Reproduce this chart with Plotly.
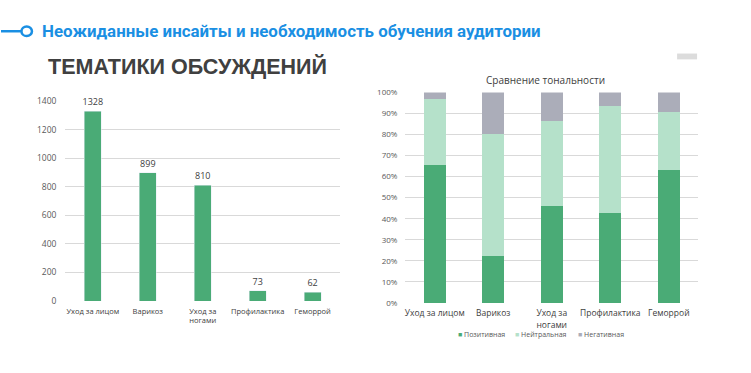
import plotly.graph_objects as go

W, H = 751, 373

categories = ["Уход за лицом", "Варикоз", "Уход за<br>ногами", "Профилактика", "Геморрой"]
counts = [1328, 899, 810, 73, 62]

positive = [65.5, 22.5, 46, 42.5, 63]
neutral = [31.5, 57.5, 40.5, 51, 27.5]
negative = [3, 20, 13.5, 6.5, 9.5]

y_ticks_left = [0, 200, 400, 600, 800, 1000, 1200, 1400]
y_ticks_right = list(range(0, 101, 10))

GREEN = "#4aab76"
LIGHT = "#b5e1ca"
GRAY = "#abadb9"
AX = "#595959"
GRID = "#d9d9d9"
FONT = "Open Sans"

def px(x):
    return x / W

def py(y):
    return 1 - y / H

fig = go.Figure()

fig.add_trace(go.Bar(
    x=categories, y=counts, marker_color=GREEN, width=0.31,
    text=[str(c) for c in counts], textposition="outside",
    constraintext="none",
    textfont=dict(size=9, color="#404040", family=FONT),
    cliponaxis=False, showlegend=False, xaxis="x", yaxis="y",
))

series = [("Позитивная", positive, GREEN),
          ("Нейтральная", neutral, LIGHT),
          ("Негативная", negative, GRAY)]
for name, vals, col in series:
    fig.add_trace(go.Bar(
        x=categories, y=vals, name=name, marker_color=col, width=0.38,
        marker_line_width=0, xaxis="x2", yaxis="y2", showlegend=False,
    ))

fig.update_layout(
    width=W, height=H, margin=dict(l=0, r=0, t=0, b=0),
    paper_bgcolor="white", plot_bgcolor="white",
    barmode="stack",
    font=dict(family=FONT, size=9, color=AX),
    xaxis=dict(domain=[px(64.5), px(339.5)], anchor="y", showgrid=False,
               showline=False, ticks="", tickfont=dict(size=7.5, color="#404040"),
               ticklabelstandoff=4, tickangle=0),
    yaxis=dict(domain=[py(304), py(98)], range=[0, 1400], anchor="x",
               tickvals=y_ticks_left, gridcolor=GRID, gridwidth=1,
               zeroline=False, showline=False, ticks="",
               ticklabelstandoff=8, tickfont=dict(size=8.5, color=AX)),
    xaxis2=dict(domain=[px(405), px(698)], anchor="y2", showgrid=False,
                showline=False, ticks="", tickfont=dict(size=8.5, color="#404040"),
                ticklabelstandoff=4, tickangle=0),
    yaxis2=dict(domain=[py(306), py(89)], range=[0, 100], anchor="x2",
                tickvals=y_ticks_right, ticktext=[f"{v}%" for v in y_ticks_right],
                gridcolor=GRID, gridwidth=1, zeroline=False, showline=False,
                ticks="", ticklabelstandoff=7, tickfont=dict(size=8, color=AX)),
    showlegend=False,
)

# Legend drawn as text items under the right chart
legend_x = [456, 513, 576]
for (name, _, col), lx in zip(series, legend_x):
    fig.add_annotation(
        text=f"<span style='color:{col}'>■</span> {name}",
        xref="paper", yref="paper", x=px(lx), y=py(338.5),
        xanchor="left", yanchor="middle", showarrow=False,
        font=dict(family=FONT, size=7, color=AX))

# Header decorations
fig.add_shape(type="line", xref="paper", yref="paper", x0=0, x1=px(20),
              y0=py(26), y1=py(26), line=dict(color="#1a8fe3", width=2.5))
fig.add_shape(type="circle", xref="paper", yref="paper",
              x0=px(20.5), x1=px(31), y0=py(31), y1=py(21),
              line=dict(color="#1a8fe3", width=2.5), fillcolor="white")
fig.add_shape(type="rect", xref="paper", yref="paper",
              x0=px(677), x1=px(697), y0=py(55), y1=py(49),
              line=dict(width=0), fillcolor="#dcdcdc")

fig.add_annotation(text="<b>Неожиданные инсайты и необходимость обучения аудитории</b>",
                   xref="paper", yref="paper", x=px(39), y=py(25.5),
                   xanchor="left", yanchor="middle", showarrow=False,
                   font=dict(family="Roboto", size=16.9, color="#1a8fe3"))
fig.add_annotation(text="<b>ТЕМАТИКИ ОБСУЖДЕНИЙ</b>",
                   xref="paper", yref="paper", x=px(45), y=py(62.5),
                   xanchor="left", yanchor="middle", showarrow=False,
                   font=dict(family="Liberation Sans", size=21.5, color="#404040"))
fig.add_annotation(text="Сравнение тональности",
                   xref="paper", yref="paper", x=px(545), y=py(76),
                   xanchor="center", yanchor="middle", showarrow=False,
                   font=dict(family=FONT, size=10, color="#404040"))

fig.write_html("out.html", post_script="document.body.style.margin='0';",
               config={"displayModeBar": False})
